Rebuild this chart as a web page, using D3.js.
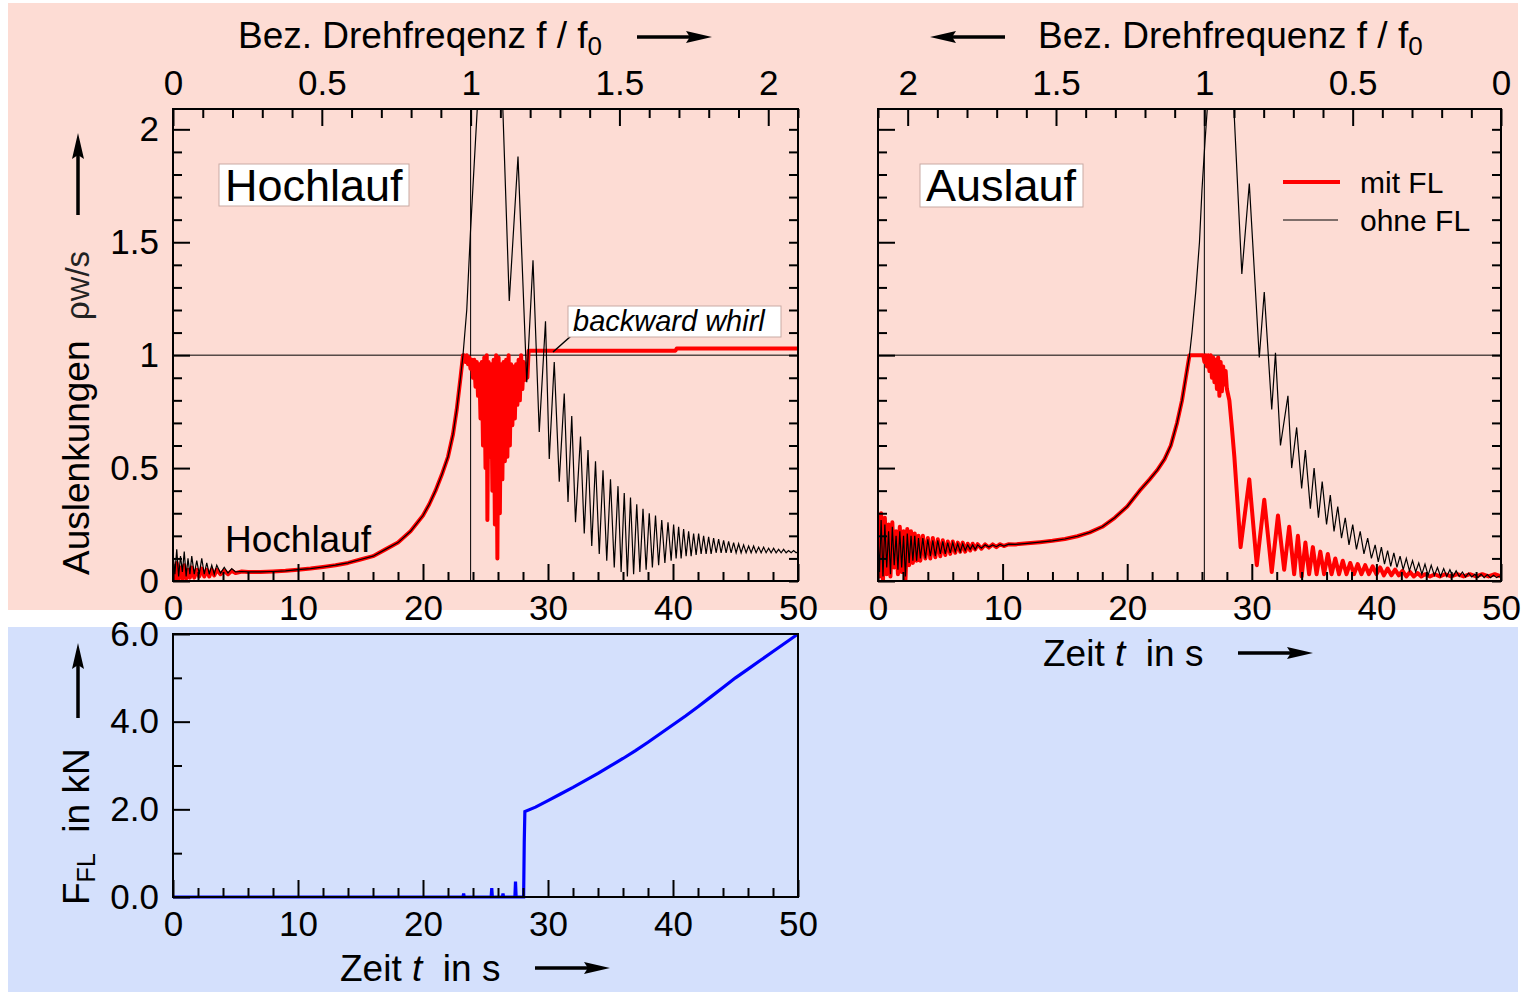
<!DOCTYPE html>
<html>
<head>
<meta charset="utf-8">
<script src="https://cdn.jsdelivr.net/npm/d3@7"></script>
<style>
    body { margin: 0; background: #fff; }
    svg { display: block; font-family: 'Liberation Sans', Arial, sans-serif; }
    .tick text { font-size: 35px; fill: #000; font-family: 'Liberation Sans', Arial, sans-serif; }
    .tick line { stroke: #000; stroke-width: 2px; }
</style>
</head>
<body>
<svg id="chart" width="1526" height="992"></svg>
<script>
// tick values
var timeTicks = [0, 10, 20, 30, 40, 50];
var freqTicks = [0, 0.5, 1, 1.5, 2];
var ampTicks = [0, 0.5, 1, 1.5, 2];
var forceTicks = [0, 2, 4, 6];

// Hochlauf: [t in s, rho_W / s]
var hochOhneNoise = [[0, 0.12], [0.15, 0.03], [0.3, 0.14], [0.45, 0.02], [0.6, 0.11], [0.75, 0.04], [0.9, 0.13], [1.05, 0.02],
    [1.2, 0.1], [1.35, 0.03], [1.5, 0.11], [1.7, 0.03], [1.9, 0.09], [2.1, 0.03], [2.3, 0.1], [2.5, 0.03], [2.7, 0.08],
    [2.9, 0.03], [3.1, 0.07], [3.3, 0.03], [3.5, 0.07], [3.8, 0.035], [4.1, 0.06], [4.4, 0.035], [4.7, 0.055], [5.0, 0.04]];
var hochMitNoise = [[0, 0.06], [0.15, 0.0], [0.3, 0.08], [0.45, 0.01], [0.6, 0.06], [0.75, 0.01], [0.9, 0.07], [1.05, 0.01],
    [1.2, 0.05], [1.35, 0.015], [1.5, 0.06], [1.7, 0.015], [1.9, 0.05], [2.1, 0.02], [2.3, 0.055], [2.5, 0.02], [2.7, 0.05],
    [2.9, 0.02], [3.1, 0.05], [3.3, 0.025], [3.5, 0.05], [3.8, 0.03], [4.1, 0.045], [4.4, 0.03], [4.7, 0.045], [5.0, 0.035]];
var hochRise = [[5.5, 0.042], [6, 0.04], [7, 0.04], [8, 0.042], [9, 0.045], [10, 0.05], [11, 0.055], [12, 0.062], [13, 0.07],
    [14, 0.08], [15, 0.095], [16, 0.11], [17, 0.14], [18, 0.17], [19, 0.22], [20, 0.29], [20.5, 0.34], [21, 0.4], [21.5, 0.47],
    [22, 0.55], [22.4, 0.65], [22.7, 0.76], [23, 0.9], [23.2, 1.0]];
var hochOhneTail = [[23.5, 1.2], [23.8, 1.55], [24.1, 1.85], [24.35, 2.1], [24.6, 2.5], [25.4, 2.7], [26.2, 2.4], [26.9, 1.24],
    [27.6, 1.88], [28.3, 0.88], [28.8, 1.42], [29.3, 0.66], [29.8, 1.15], [30.1, 0.54], [30.5, 0.97], [30.9, 0.44], [31.3, 0.83],
    [31.6, 0.35], [31.9, 0.73], [32.2, 0.26], [32.6, 0.64], [32.9, 0.21], [33.2, 0.58], [33.5, 0.155], [33.8, 0.53], [34.1, 0.12],
    [34.4, 0.49], [34.7, 0.09], [35.0, 0.45], [35.3, 0.06], [35.6, 0.42], [35.85, 0.04], [36.1, 0.39], [36.35, 0.02], [36.6, 0.37],
    [36.85, 0.03], [37.1, 0.34], [37.35, 0.04], [37.6, 0.32], [37.85, 0.05], [38.1, 0.3], [38.35, 0.06], [38.6, 0.29], [38.85, 0.07],
    [39.1, 0.27], [39.35, 0.08], [39.6, 0.26], [39.85, 0.09], [40.05, 0.25], [40.25, 0.1], [40.45, 0.24], [40.65, 0.1], [40.85, 0.23],
    [41.05, 0.11], [41.25, 0.22], [41.45, 0.11], [41.65, 0.21], [41.85, 0.115], [42.05, 0.21], [42.25, 0.12], [42.45, 0.2],
    [42.65, 0.12], [42.85, 0.195], [43.05, 0.12], [43.25, 0.19], [43.45, 0.125], [43.65, 0.185], [43.85, 0.125], [44.05, 0.18],
    [44.25, 0.125], [44.45, 0.175], [44.65, 0.125], [44.85, 0.17], [45.05, 0.125], [45.25, 0.165], [45.45, 0.125], [45.65, 0.16],
    [45.85, 0.125], [46.05, 0.155], [46.25, 0.125], [46.45, 0.155], [46.65, 0.125], [46.85, 0.15], [47.05, 0.125], [47.25, 0.15],
    [47.45, 0.125], [47.65, 0.145], [47.85, 0.125], [48.05, 0.145], [48.25, 0.125], [48.45, 0.14], [48.65, 0.125], [48.85, 0.14],
    [49.05, 0.125], [49.25, 0.135], [49.45, 0.125], [49.65, 0.135], [49.85, 0.125], [50, 0.13]];
var hochMitTail = [[23.3, 1.0], [23.4, 0.97], [23.5, 1.0], [23.6, 0.96], [23.7, 0.99], [23.8, 0.94], [23.9, 0.98], [24.0, 0.9],
    [24.1, 0.98], [24.2, 0.86], [24.3, 0.97], [24.4, 0.82], [24.5, 0.96], [24.6, 0.72], [24.7, 0.97], [24.8, 0.6], [24.9, 0.99],
    [25.0, 0.5], [25.1, 1.0], [25.15, 0.27], [25.25, 0.97], [25.35, 0.55], [25.45, 0.96], [25.55, 0.4], [25.65, 0.98], [25.75, 0.25],
    [25.85, 1.0], [25.95, 0.1], [26.05, 0.99], [26.15, 0.3], [26.25, 0.96], [26.35, 0.45], [26.45, 0.97], [26.55, 0.53], [26.65, 0.98],
    [26.75, 0.55], [26.85, 1.0], [26.95, 0.6], [27.05, 0.96], [27.15, 0.69], [27.25, 0.95], [27.35, 0.72], [27.45, 0.96], [27.55, 0.78],
    [27.65, 0.98], [27.75, 0.8], [27.85, 1.0], [27.95, 0.85], [28.05, 0.97], [28.15, 0.89], [28.25, 0.96], [28.35, 0.9], [28.45, 1.02],
    [35, 1.02], [40.2, 1.02], [40.3, 1.03], [50, 1.03]];

// Auslauf: [t in s, rho_W / s]
var auslOhneNoise = [[0, 0.2], [0.12, 0.04], [0.25, 0.27], [0.4, 0.02], [0.55, 0.25], [0.7, 0.06], [0.85, 0.22], [1.0, 0.03],
    [1.15, 0.24], [1.3, 0.07], [1.45, 0.2], [1.6, 0.05], [1.75, 0.22], [1.9, 0.06], [2.05, 0.2], [2.2, 0.02], [2.35, 0.21], [2.5, 0.08],
    [2.65, 0.2], [2.8, 0.09], [2.95, 0.2], [3.1, 0.09], [3.25, 0.19], [3.4, 0.1], [3.6, 0.19], [3.8, 0.1], [4.0, 0.185], [4.2, 0.11],
    [4.4, 0.18], [4.6, 0.11], [4.8, 0.18], [5.0, 0.12], [5.2, 0.175], [5.4, 0.12], [5.6, 0.17], [5.8, 0.125], [6.0, 0.17], [6.2, 0.13],
    [6.4, 0.165], [6.6, 0.13], [6.8, 0.165], [7.0, 0.135], [7.2, 0.16], [7.4, 0.14], [7.6, 0.16], [7.8, 0.14], [8.0, 0.16], [8.3, 0.145],
    [8.6, 0.16], [8.9, 0.15], [9.2, 0.16], [9.5, 0.152], [9.8, 0.162], [10.1, 0.155], [10.5, 0.163]];
var auslMitNoise = [[0, 0.3], [0.12, 0.02], [0.25, 0.3], [0.4, 0.0], [0.55, 0.28], [0.7, 0.03], [0.85, 0.25], [1.0, 0.02],
    [1.15, 0.26], [1.3, 0.06], [1.45, 0.22], [1.6, 0.03], [1.75, 0.24], [1.9, 0.04], [2.05, 0.22], [2.2, 0.0], [2.35, 0.23], [2.5, 0.07],
    [2.65, 0.22], [2.8, 0.08], [2.95, 0.21], [3.1, 0.09], [3.25, 0.2], [3.4, 0.09], [3.6, 0.2], [3.8, 0.1], [4.0, 0.19], [4.2, 0.1],
    [4.4, 0.19], [4.6, 0.105], [4.8, 0.185], [5.0, 0.11], [5.2, 0.18], [5.4, 0.115], [5.6, 0.175], [5.8, 0.12], [6.0, 0.175], [6.2, 0.125],
    [6.4, 0.17], [6.6, 0.13], [6.8, 0.17], [7.0, 0.13], [7.2, 0.165], [7.4, 0.135], [7.6, 0.165], [7.8, 0.14], [8.0, 0.163], [8.3, 0.143],
    [8.6, 0.162], [8.9, 0.148], [9.2, 0.162], [9.5, 0.15], [9.8, 0.163], [10.1, 0.155], [10.5, 0.163]];
var auslRise = [[11, 0.162], [12, 0.167], [13, 0.172], [14, 0.178], [15, 0.186], [16, 0.198], [17, 0.215], [18, 0.24], [19, 0.28],
    [20, 0.33], [21, 0.4], [21.8, 0.45], [22.4, 0.49], [23, 0.54], [23.5, 0.6], [24, 0.7], [24.4, 0.8], [24.7, 0.9], [25.0, 1.0]];
var auslOhneTail = [[25.2, 1.1], [25.5, 1.28], [25.8, 1.5], [26.0, 1.73], [26.25, 1.95], [26.5, 2.15], [27.4, 2.7], [28.3, 2.5],
    [28.6, 2.05], [29.2, 1.36], [29.8, 1.76], [30.6, 0.99], [31.0, 1.28], [31.6, 0.76], [31.9, 1.01], [32.3, 0.6], [32.9, 0.82],
    [33.2, 0.5], [33.6, 0.68], [34.0, 0.41], [34.3, 0.58], [34.7, 0.32], [35.0, 0.5], [35.35, 0.28], [35.65, 0.44], [36.0, 0.25],
    [36.3, 0.38], [36.6, 0.22], [36.9, 0.33], [37.2, 0.19], [37.5, 0.28], [37.8, 0.16], [38.1, 0.25], [38.4, 0.14], [38.7, 0.22],
    [39.0, 0.12], [39.3, 0.19], [39.6, 0.1], [39.9, 0.16], [40.15, 0.085], [40.4, 0.15], [40.65, 0.075], [40.9, 0.135], [41.15, 0.065],
    [41.4, 0.125], [41.65, 0.06], [41.9, 0.11], [42.15, 0.05], [42.4, 0.1], [42.65, 0.045], [42.9, 0.09], [43.15, 0.04], [43.4, 0.08],
    [43.65, 0.03], [43.9, 0.075], [44.15, 0.025], [44.4, 0.07], [44.65, 0.025], [44.9, 0.06], [45.15, 0.02], [45.4, 0.055],
    [45.65, 0.02], [45.9, 0.05], [46.15, 0.02], [46.4, 0.045], [46.65, 0.02], [46.9, 0.04], [47.15, 0.018], [47.4, 0.035],
    [47.65, 0.018], [47.9, 0.03], [48.15, 0.015], [48.4, 0.03], [48.65, 0.015], [48.9, 0.028], [49.15, 0.015], [49.4, 0.025],
    [49.65, 0.015], [49.9, 0.022]];
var auslMitTail = [[25.3, 1.0], [25.8, 1.0], [26.1, 1.0], [26.2, 0.97], [26.3, 1.0], [26.4, 0.95], [26.5, 1.0], [26.6, 0.93],
    [26.7, 1.0], [26.8, 0.9], [26.9, 0.99], [27.0, 0.88], [27.1, 0.98], [27.2, 0.85], [27.3, 0.99], [27.4, 0.82], [27.5, 0.97],
    [27.6, 0.84], [27.7, 0.95], [27.8, 0.87], [27.9, 0.93], [28.0, 0.85], [28.2, 0.8], [28.4, 0.68], [28.6, 0.55], [28.85, 0.35],
    [29.1, 0.15], [29.8, 0.45], [30.4, 0.07], [31.0, 0.36], [31.6, 0.04], [32.1, 0.29], [32.6, 0.05], [33.0, 0.24], [33.4, 0.03],
    [33.7, 0.2], [34.0, 0.02], [34.3, 0.17], [34.6, 0.03], [34.9, 0.15], [35.2, 0.03], [35.5, 0.13], [35.8, 0.03], [36.1, 0.12],
    [36.4, 0.03], [36.7, 0.1], [37.0, 0.03], [37.3, 0.09], [37.6, 0.03], [37.9, 0.08], [38.2, 0.03], [38.5, 0.075], [38.8, 0.03],
    [39.1, 0.07], [39.4, 0.03], [39.7, 0.065], [40.0, 0.03], [40.3, 0.06], [40.6, 0.025], [40.9, 0.055], [41.2, 0.025], [41.5, 0.05],
    [41.8, 0.025], [42.1, 0.045], [42.4, 0.02], [42.7, 0.04], [43.0, 0.02], [43.3, 0.035], [43.6, 0.02], [43.9, 0.03], [44.3, 0.02],
    [44.7, 0.03], [45.1, 0.02], [45.5, 0.03], [46, 0.02], [46.5, 0.03], [47, 0.02], [47.5, 0.03], [48, 0.02], [48.5, 0.03], [49, 0.02],
    [49.5, 0.03], [50, 0.02]];

// Fanglagerkraft: [t in s, F_FL in kN]
var kraftFL = [[0, 0], [23.2, 0], [23.25, 0.08], [23.3, 0], [25.45, 0], [25.5, 0.2], [25.55, 0], [26.35, 0], [26.4, 0.08],
    [26.45, 0], [27.35, 0], [27.4, 0.35], [27.45, 0], [28.05, 0], [28.1, 1.25], [28.15, 1.95], [29, 2.05], [30, 2.2], [31, 2.35],
    [32, 2.5], [33, 2.66], [34, 2.82], [35, 2.99], [36, 3.16], [37, 3.34], [38, 3.53], [39, 3.73], [40, 3.93], [41, 4.13], [42, 4.34],
    [43, 4.56], [44, 4.78], [45, 5.0], [46, 5.2], [47, 5.4], [48, 5.6], [49, 5.8], [50, 6.0]];

var hochOhne = hochOhneNoise.concat(hochRise, hochOhneTail);
var hochMit = hochMitNoise.concat(hochRise, hochMitTail);
var auslOhne = auslOhneNoise.concat(auslRise, auslOhneTail);
var auslMit = auslMitNoise.concat(auslRise, auslMitTail);

var svg = d3.select('#chart');

// backgrounds
svg.append('rect').attr('x', 8).attr('y', 3).attr('width', 1510).attr('height', 607).attr('fill', '#fddcd4');
svg.append('rect').attr('x', 8).attr('y', 627).attr('width', 1510).attr('height', 365).attr('fill', '#d4e0fc');

function minorRange(a, b, step, majorStep) {
    return d3.range(a, b + step / 2, step).filter(function (v) {
        return Math.abs(v / majorStep - Math.round(v / majorStep)) > 1e-6;
    });
}

function drawAxis(orient, scale, pos, majors, minors, fmt, majorLen) {
    var make = { left: d3.axisLeft, right: d3.axisRight, top: d3.axisTop, bottom: d3.axisBottom }[orient];
    var tr = (orient === 'left' || orient === 'right') ? 'translate(' + pos + ',0)' : 'translate(0,' + pos + ')';
    svg.append('g')
        .attr('transform', tr)
        .call(make(scale).tickValues(minors).tickFormat('').tickSizeInner(-9).tickSizeOuter(0))
        .call(function (g) { g.select('.domain').remove(); });
    svg.append('g')
        .attr('transform', tr)
        .call(make(scale).tickValues(majors).tickFormat(fmt || '').tickSizeInner(-majorLen).tickSizeOuter(0).tickPadding(14))
        .call(function (g) { g.select('.domain').remove(); });
}

function arrow(x1, y1, x2, y2) {
    var ang = Math.atan2(y2 - y1, x2 - x1);
    var len = 26, hw = 6;
    var bx = x2 - len * Math.cos(ang), by = y2 - len * Math.sin(ang);
    svg.append('line').attr('x1', x1).attr('y1', y1).attr('x2', bx + 4 * Math.cos(ang)).attr('y2', by + 4 * Math.sin(ang))
        .attr('stroke', '#000').attr('stroke-width', 3.5);
    var px = -Math.sin(ang) * hw, py = Math.cos(ang) * hw;
    var nx = x2 - (len * 0.85) * Math.cos(ang), ny = y2 - (len * 0.85) * Math.sin(ang);
    svg.append('path')
        .attr('d', 'M' + x2 + ',' + y2 + 'L' + (bx + px) + ',' + (by + py) + 'L' + nx + ',' + ny + 'L' + (bx - px) + ',' + (by - py) + 'Z')
        .attr('fill', '#000');
}

var ampFmt = function (d) { return String(d); };

function topPanel(id, x0, x1, freqDomain, ohne, mit, showYLabels) {
    var x = d3.scaleLinear().domain([0, 50]).range([x0, x1]);
    var f = d3.scaleLinear().domain(freqDomain).range([x0, x1]);
    var y = d3.scaleLinear().domain([0, 2.09]).range([581, 109]);

    svg.append('clipPath').attr('id', id).append('rect')
        .attr('x', x0).attr('y', 109).attr('width', x1 - x0).attr('height', 581 - 109);

    var plot = svg.append('g').attr('clip-path', 'url(#' + id + ')');
    plot.append('line').attr('x1', x0).attr('x2', x1).attr('y1', y(1)).attr('y2', y(1))
        .attr('stroke', '#000').attr('stroke-width', 1);
    plot.append('line').attr('x1', f(1)).attr('x2', f(1)).attr('y1', 109).attr('y2', 581)
        .attr('stroke', '#000').attr('stroke-width', 1);

    var line = d3.line().x(function (d) { return x(d[0]); }).y(function (d) { return y(d[1]); });
    plot.append('path').datum(mit).attr('d', line).attr('fill', 'none')
        .attr('stroke', '#ff0000').attr('stroke-width', 4).attr('stroke-linejoin', 'round');
    plot.append('path').datum(ohne).attr('d', line).attr('fill', 'none')
        .attr('stroke', '#000').attr('stroke-width', 1.2);

    svg.append('rect').attr('x', x0).attr('y', 109).attr('width', x1 - x0).attr('height', 581 - 109)
        .attr('fill', 'none').attr('stroke', '#000').attr('stroke-width', 2);

    drawAxis('bottom', x, 581, timeTicks, minorRange(0, 50, 2, 10), d3.format('d'), 17);
    drawAxis('top', f, 109, freqTicks, minorRange(0, 2.1, 0.1, 0.5), ampFmt, 17);
    drawAxis('left', y, x0, ampTicks, minorRange(0, 2.0, 0.1, 0.5), showYLabels ? ampFmt : '', 17);
    drawAxis('right', y, x1, ampTicks, minorRange(0, 2.0, 0.1, 0.5), '', 9);
    return { x: x, y: y };
}

var left = topPanel('clipL', 173, 798, [0, 2.1], hochOhne, hochMit, true);
var right = topPanel('clipR', 878, 1501, [2.1, 0], auslOhne, auslMit, false);

// bottom panel: force in the catcher bearing
var xB = d3.scaleLinear().domain([0, 50]).range([173, 798]);
var yB = d3.scaleLinear().domain([0, 6]).range([897, 634]);
svg.append('path').datum(kraftFL)
    .attr('d', d3.line().x(function (d) { return xB(d[0]); }).y(function (d) { return yB(d[1]); }))
    .attr('fill', 'none').attr('stroke', '#0000ff').attr('stroke-width', 3.2);
svg.append('rect').attr('x', 173).attr('y', 634).attr('width', 625).attr('height', 263)
    .attr('fill', 'none').attr('stroke', '#000').attr('stroke-width', 2);
drawAxis('bottom', xB, 897, timeTicks, minorRange(0, 50, 2, 10), d3.format('d'), 17);
drawAxis('left', yB, 173, forceTicks, minorRange(0, 6, 1, 2), d3.format('.1f'), 17);

// text boxes
function boxText(bx, by, bw, bh, tx, ty, txt, size, italic) {
    svg.append('rect').attr('x', bx).attr('y', by).attr('width', bw).attr('height', bh)
        .attr('fill', '#fff').attr('stroke', '#c9aaa3').attr('stroke-width', 1);
    svg.append('text').attr('x', tx).attr('y', ty).attr('font-size', size)
        .attr('font-style', italic ? 'italic' : 'normal').text(txt);
}
boxText(219, 164, 190, 42, 225, 201, 'Hochlauf', 45, false);
boxText(920, 164, 163, 43, 926, 201, 'Auslauf', 45, false);
svg.append('line').attr('x1', 553).attr('y1', 352).attr('x2', 571).attr('y2', 336)
    .attr('stroke', '#000').attr('stroke-width', 1.5);
boxText(568, 306, 213, 31, 573, 331, 'backward whirl', 29, true);

svg.append('text').attr('x', 225).attr('y', 552).attr('font-size', 37).text('Hochlauf');

// legend
svg.append('line').attr('x1', 1283).attr('x2', 1340).attr('y1', 182).attr('y2', 182)
    .attr('stroke', '#ff0000').attr('stroke-width', 4);
svg.append('text').attr('x', 1360).attr('y', 193).attr('font-size', 30).text('mit FL');
svg.append('line').attr('x1', 1283).attr('x2', 1338).attr('y1', 220).attr('y2', 220)
    .attr('stroke', '#000').attr('stroke-width', 1.2);
svg.append('text').attr('x', 1360).attr('y', 231).attr('font-size', 30).text('ohne FL');

// axis titles
function freqTitle(x, y, word) {
    var t = svg.append('text').attr('x', x).attr('y', y).attr('font-size', 37);
    t.append('tspan').text('Bez. ' + word + ' f / f');
    t.append('tspan').attr('font-size', 26).attr('dy', 7).text('0');
}
freqTitle(238, 48, 'Drehfreqenz');
arrow(637, 37, 712, 37);
freqTitle(1038, 48, 'Drehfrequenz');
arrow(1005, 37, 930, 37);

function timeTitle(x, y) {
    var t = svg.append('text').attr('x', x).attr('y', y).attr('font-size', 37);
    t.append('tspan').text('Zeit ');
    t.append('tspan').attr('font-style', 'italic').text('t');
    t.append('tspan').text('\u00a0 in s');
}
timeTitle(1043, 666);
arrow(1238, 653, 1313, 653);
timeTitle(340, 981);
arrow(535, 968, 610, 968);

var yl = svg.append('text').attr('transform', 'translate(89,575) rotate(-90)').attr('font-size', 37);
yl.append('tspan').text('Auslenkungen\u00a0 ');
yl.append('tspan').attr('font-size', 33).attr('fill', '#222').text('\u03c1');
yl.append('tspan').attr('font-size', 26).attr('fill', '#222').text('W');
yl.append('tspan').attr('font-size', 33).attr('fill', '#222').text('/s');
arrow(78, 215, 78, 133);

var fl = svg.append('text').attr('transform', 'translate(89,905) rotate(-90)').attr('font-size', 37);
fl.append('tspan').text('F');
fl.append('tspan').attr('font-size', 25).attr('dy', 6).text('FL');
fl.append('tspan').attr('dy', -6).text('\u00a0 in kN');
arrow(78, 718, 78, 643);
</script>
</body>
</html>
